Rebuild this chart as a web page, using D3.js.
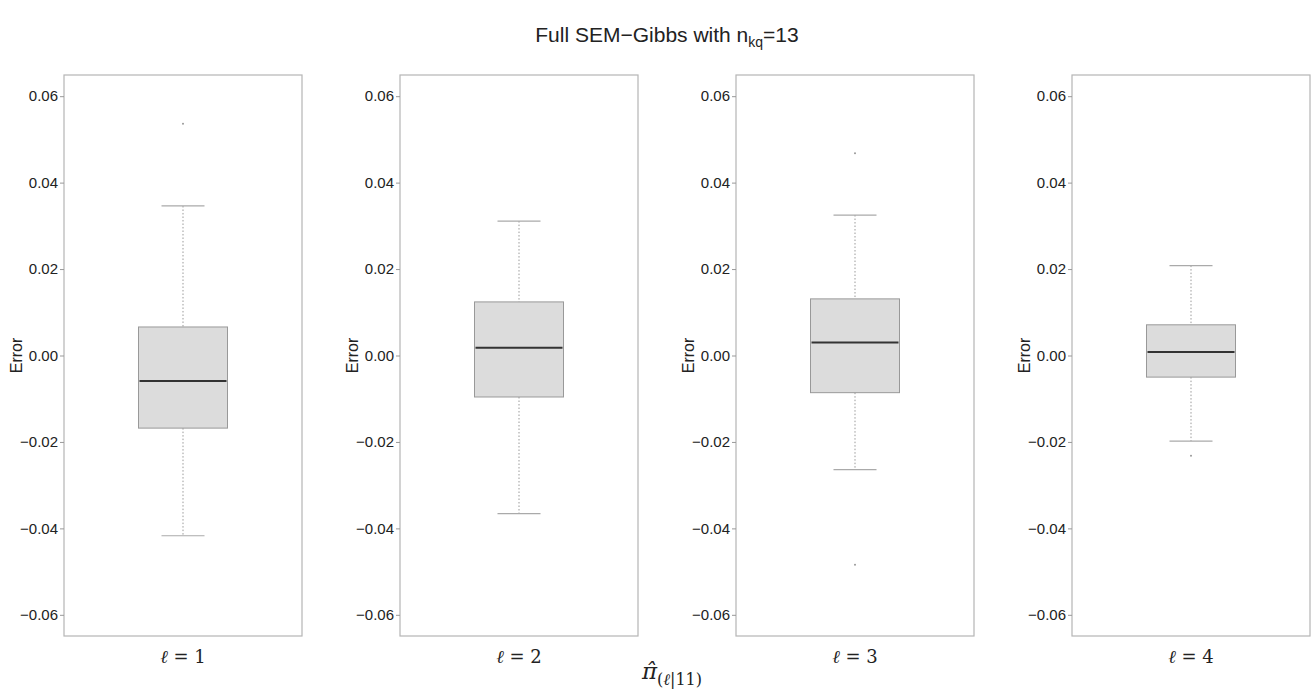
<!DOCTYPE html>
<html>
<head>
<meta charset="utf-8">
<script src="https://cdn.jsdelivr.net/npm/d3@7"></script>
<style>
  body { margin: 0; background: #fff; }
</style>
</head>
<body>
<div id="chart"></div>
<script>
var width = 1312,
    height = 697;

// data
var categories = ["1", "2", "3", "4"];
var whiskerHi = [0.0346, 0.0311, 0.0325, 0.0208];
var q3 = [0.0066, 0.0124, 0.0131, 0.0071];
var median = [-0.0059, 0.0018, 0.0030, 0.0008];
var q1 = [-0.0168, -0.0096, -0.0086, -0.0050];
var whiskerLo = [-0.0417, -0.0366, -0.0264, -0.0198];
var outliers = [[0.0536], [], [0.0468, -0.0484], [-0.0232]];
var yTicks = [0.06, 0.04, 0.02, 0.00, -0.02, -0.04, -0.06];

var svg = d3.select("#chart").append("svg")
    .attr("width", width)
    .attr("height", height);

var panelW = 238,
    panelTop = 75,
    panelBottom = 636;

var panelX = d3.scaleBand()
    .domain(categories)
    .range([64, 64 + 336 * 4])
    .paddingInner(0);

var y = d3.scaleLinear()
    .domain([-0.0649, 0.0649])
    .range([panelBottom, panelTop]);

// title
var title = svg.append("text")
    .attr("x", 667)
    .attr("y", 42)
    .attr("text-anchor", "middle")
    .attr("font-family", "Liberation Sans, Arial, sans-serif")
    .attr("font-size", "21px")
    .attr("fill", "#222");
title.append("tspan").text("Full SEM\u2212Gibbs with n");
title.append("tspan").attr("font-size", "14px").attr("dy", 5).text("kq");
title.append("tspan").attr("dy", -5).text("=13");

categories.forEach(function(c, i) {
  var x0 = panelX(c);
  var g = svg.append("g").attr("transform", "translate(" + x0 + ",0)");
  var cx = panelW / 2;
  var boxW = 89, capW = 43;

  // panel border
  g.append("rect")
      .attr("x", 0)
      .attr("y", panelTop)
      .attr("width", panelW)
      .attr("height", panelBottom - panelTop)
      .attr("fill", "none")
      .attr("stroke", "#b5b5b5")
      .attr("stroke-width", 1.2);

  // y axis
  var axis = g.append("g")
      .call(d3.axisLeft(y).tickValues(yTicks).tickSize(4)
        .tickFormat(function(d) { return d3.format(".2f")(d).replace("-", "\u2212"); }));
  axis.select(".domain").remove();
  axis.selectAll(".tick line").attr("stroke", "#999");
  axis.selectAll(".tick text")
      .attr("font-family", "Liberation Sans, Arial, sans-serif")
      .attr("font-size", "15px")
      .attr("fill", "#222")
      .attr("x", -6);

  g.append("text")
      .attr("transform", "translate(" + (-42) + "," + y(0) + ") rotate(-90)")
      .attr("text-anchor", "middle")
      .attr("font-family", "Liberation Sans, Arial, sans-serif")
      .attr("font-size", "16px")
      .attr("fill", "#222")
      .text("Error");

  // whiskers
  g.append("line")
      .attr("x1", cx).attr("x2", cx)
      .attr("y1", y(whiskerHi[i])).attr("y2", y(q3[i]))
      .attr("stroke", "#999").attr("stroke-dasharray", "1.5,2");
  g.append("line")
      .attr("x1", cx).attr("x2", cx)
      .attr("y1", y(q1[i])).attr("y2", y(whiskerLo[i]))
      .attr("stroke", "#999").attr("stroke-dasharray", "1.5,2");
  [whiskerHi[i], whiskerLo[i]].forEach(function(v) {
    g.append("line")
        .attr("x1", cx - capW / 2).attr("x2", cx + capW / 2)
        .attr("y1", y(v)).attr("y2", y(v))
        .attr("stroke", "#aaa").attr("stroke-width", 1.2);
  });

  // box
  g.append("rect")
      .attr("x", cx - boxW / 2)
      .attr("y", y(q3[i]))
      .attr("width", boxW)
      .attr("height", y(q1[i]) - y(q3[i]))
      .attr("fill", "#dcdcdc")
      .attr("stroke", "#999")
      .attr("stroke-width", 1);

  g.append("line")
      .attr("x1", cx - boxW / 2 + 1).attr("x2", cx + boxW / 2 - 1)
      .attr("y1", y(median[i])).attr("y2", y(median[i]))
      .attr("stroke", "#333").attr("stroke-width", 2);

  // outliers
  g.selectAll("circle.out").data(outliers[i]).enter().append("circle")
      .attr("class", "out")
      .attr("cx", cx)
      .attr("cy", function(d) { return y(d); })
      .attr("r", 1)
      .attr("fill", "#999");

  // category label
  var lab = g.append("text")
      .attr("x", cx)
      .attr("y", 663)
      .attr("text-anchor", "middle")
      .attr("font-family", "DejaVu Serif, Liberation Serif, serif")
      .attr("font-size", "18px")
      .attr("fill", "#222");
  lab.append("tspan").attr("font-style", "italic").text("\u2113");
  lab.append("tspan").text(" = " + c);
});

// bottom axis label
var xl = svg.append("text")
    .attr("x", 672)
    .attr("y", 679)
    .attr("text-anchor", "middle")
    .attr("font-family", "DejaVu Serif, Liberation Serif, serif")
    .attr("font-size", "23px")
    .attr("fill", "#222");
xl.append("tspan").attr("font-style", "italic").text("\u03c0\u0302");
xl.append("tspan").attr("font-size", "16px").attr("dy", 6).text("(");
xl.append("tspan").attr("font-size", "16px").attr("font-style", "italic").text("\u2113");
xl.append("tspan").attr("font-size", "16px").text("|11)");
</script>
</body>
</html>
